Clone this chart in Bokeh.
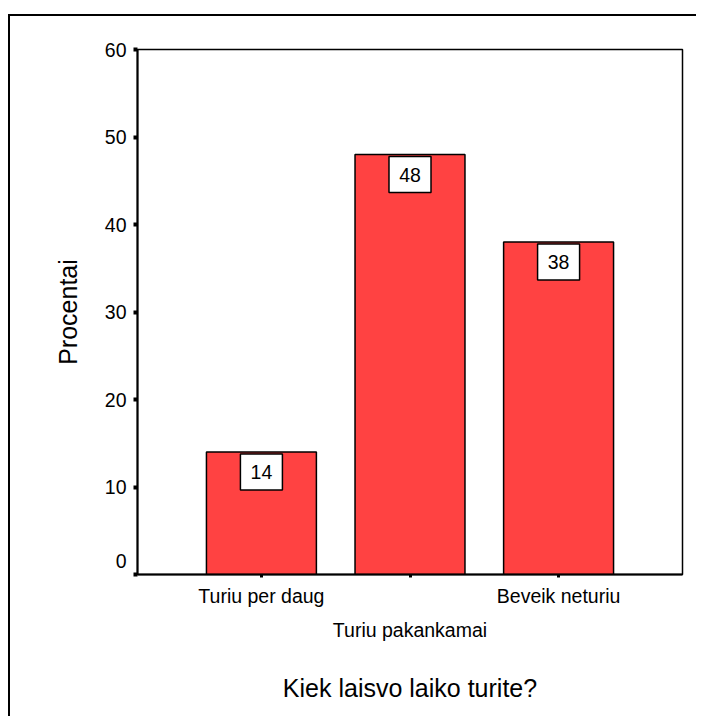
from bokeh.plotting import figure
from bokeh.models import Range1d, FixedTicker, LinearAxis
from bokeh.core.properties import value
from bokeh.embed import file_html
from bokeh.resources import INLINE

# ---- data ----
categories = ["Turiu per daug", "Turiu pakankamai", "Beveik neturiu"]
percents = [14, 48, 38]
y_ticks = [0, 10, 20, 30, 40, 50, 60]
y_label = "Procentai"
x_title = "Kiek laisvo laiko turite?"

positions = list(range(1, len(categories) + 1))
FONT = "Liberation Sans"
BAR_RED = "#ff4242"

frame_w, frame_h = 545, 525
x_start = 0.166
p = figure(
    output_backend="svg", toolbar_location=None,
    width=688, height=702,
    x_range=Range1d(x_start, len(categories) + 0.834),
    y_range=Range1d(0, 60),
    min_border_left=127, min_border_right=16, min_border_top=33, min_border_bottom=144,
    x_axis_location=None,
)
p.styles = {"border-top": "2px solid black", "border-left": "2px solid black",
            "margin-top": "14px", "margin-left": "8px"}
p.background_fill_color = "white"
p.border_fill_color = "white"
p.xgrid.visible = False
p.ygrid.visible = False
p.outline_line_color = "black"
p.outline_line_width = 1.5

# bars
p.vbar(x=positions, top=percents, width=0.74, bottom=0,
       fill_color=BAR_RED, line_color="black", line_width=1.5)

# value boxes (white with black border) just under bar tops
px_per_unit = frame_h / 60.0
box_h = 36
box_center_off = (2 + box_h / 2) / px_per_unit
p.rect(x=positions, y=[v - box_center_off for v in percents], width=42, height=box_h,
       width_units="screen", height_units="screen",
       fill_color="white", line_color="black", line_width=1.5)
p.text(x=positions, y=percents, text=[str(v) for v in percents],
       y_offset=20, text_align="center", text_baseline="middle",
       text_font=value(FONT), text_font_size="19.5px", text_color="black")

# y axis
ya = p.yaxis[0]
ya.ticker = FixedTicker(ticks=y_ticks)
# the zero label sits a little above the axis corner
ya.major_label_overrides = {y_ticks[0]: str(y_ticks[0]) + "\n "}
ya.axis_line_width = 2
ya.major_tick_line_width = 4
ya.major_tick_out = 4
ya.major_tick_in = 0
ya.minor_tick_line_color = None
ya.major_label_standoff = 7
ya.major_label_text_font = FONT
ya.major_label_text_font_size = "19.5px"
ya.major_label_text_color = "black"
ya.axis_label = y_label
ya.axis_label_text_font = FONT
ya.axis_label_text_font_size = "25px"
ya.axis_label_text_font_style = "normal"
ya.axis_label_text_color = "black"
ya.axis_label_standoff = 20

# x axis row 1 (odd categories)
row1 = {pos: (c if i % 2 == 0 else "") for i, (pos, c) in enumerate(zip(positions, categories))}
xa1 = LinearAxis(ticker=FixedTicker(ticks=positions), major_label_overrides=row1)
xa1.axis_line_width = 2
xa1.major_tick_line_width = 3
xa1.major_tick_out = 3
xa1.major_tick_in = 0
xa1.minor_tick_line_color = None
xa1.major_label_standoff = 7
xa1.major_label_text_font = FONT
xa1.major_label_text_font_size = "19.5px"
xa1.major_label_text_color = "black"
p.add_layout(xa1, "below")

# x axis row 2 (staggered categories) + axis title
row2_pos = [pos for i, pos in enumerate(positions) if i % 2 == 1]
row2 = {pos: categories[pos - 1] for pos in row2_pos}
xa2 = LinearAxis(ticker=FixedTicker(ticks=row2_pos), major_label_overrides=row2)
xa2.axis_line_color = None
xa2.major_tick_line_color = None
xa2.major_tick_out = 0
xa2.major_tick_in = 0
xa2.minor_tick_line_color = None
xa2.major_label_standoff = 9
xa2.major_label_text_font = FONT
xa2.major_label_text_font_size = "19.5px"
xa2.major_label_text_color = "black"
xa2.axis_label = x_title
xa2.axis_label_text_font = FONT
xa2.axis_label_text_font_size = "25px"
xa2.axis_label_text_font_style = "normal"
xa2.axis_label_text_color = "black"
xa2.axis_label_standoff = 30
p.add_layout(xa2, "below")

open("out.html", "w").write(file_html(p, INLINE))
